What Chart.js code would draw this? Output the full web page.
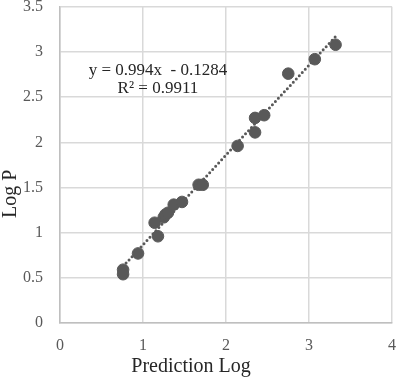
<!DOCTYPE html>
<html>
<head>
<meta charset="utf-8">
<script src="https://cdn.jsdelivr.net/npm/chart.js@4/dist/chart.umd.min.js"></script>
<style>
  html, body { margin: 0; padding: 0; background: #fff; }
  #wrap { width: 399px; height: 377px; }
</style>
</head>
<body>
<div id="wrap"><canvas id="chart" width="399" height="377"></canvas></div>
<script>
const FONT = "'Liberation Serif', 'Times New Roman', serif";

// prediction (x) and measured Log P (y)
const predLog = [0.76, 0.76, 0.94, 1.14, 1.18, 1.25, 1.27, 1.30, 1.37, 1.47, 1.67, 1.72, 2.14, 2.35, 2.35, 2.46, 2.75, 3.07, 3.32];
const logP    = [0.59, 0.54, 0.77, 1.11, 0.96, 1.17, 1.20, 1.22, 1.31, 1.34, 1.53, 1.53, 1.96, 2.11, 2.27, 2.30, 2.76, 2.92, 3.08];

const slope = 0.994;
const intercept = -0.1284;
const eqText = "y = 0.994x  - 0.1284";
const r2Text = "R\u00b2 = 0.9911";

const xTicks = [0, 1, 2, 3, 4];
const yTicks = [0, 0.5, 1, 1.5, 2, 2.5, 3, 3.5];

const points = predLog.map((x, i) => ({ x: x, y: logP[i] }));
const xMin = Math.min(...predLog);
const xMax = Math.max(...predLog);
const trend = [xMin, xMax].map(x => ({ x: x, y: slope * x + intercept }));

// equation box + axis titles, placed relative to the plot area
const labelsPlugin = {
    id: 'labels',
    afterDatasetsDraw(chart) {
        const ctx = chart.ctx;
        const xs = chart.scales.x;
        const ys = chart.scales.y;
        const area = chart.chartArea;
        ctx.save();
        ctx.fillStyle = '#262626';
        ctx.textAlign = 'center';
        ctx.textBaseline = 'middle';
        ctx.font = `17px ${FONT}`;
        ctx.fillText(eqText, xs.getPixelForValue(1.18), ys.getPixelForValue(2.8));
        ctx.fillText(r2Text, xs.getPixelForValue(1.18), ys.getPixelForValue(2.6));

        ctx.font = `20px ${FONT}`;
        ctx.fillText('Prediction Log', area.left + 131, 367);

        ctx.translate(11, area.top + 187);
        ctx.rotate(-Math.PI / 2);
        ctx.fillText('Log P', 0, 0);
        ctx.restore();
    }
};

const fitX = s => {
    s.height = 54;
    s.paddingLeft = 0;
    s.paddingRight = 0;
};
const fitY = s => {
    s.width = 60;
    s.paddingTop = 0;
    s.paddingBottom = 0;
};

new Chart(document.getElementById('chart'), {
    type: 'scatter',
    data: {
        datasets: [
            {
                label: 'trend',
                type: 'line',
                data: trend,
                borderColor: '#595959',
                borderWidth: 3,
                borderDash: [0, 4.4],
                borderCapStyle: 'round',
                pointRadius: 0,
                fill: false,
                order: 2
            },
            {
                label: 'Log P',
                data: points,
                backgroundColor: '#595959',
                borderColor: '#595959',
                pointRadius: 5.8,
                pointHoverRadius: 5.8,
                order: 1
            }
        ]
    },
    options: {
        responsive: false,
        animation: false,
        events: [],
        layout: { padding: { left: 0, right: 7, top: 5, bottom: 0 } },
        plugins: {
            legend: { display: false },
            tooltip: { enabled: false }
        },
        scales: {
            x: {
                type: 'linear',
                min: 0,
                max: 4,
                afterBuildTicks: s => { s.ticks = xTicks.map(v => ({ value: v })); },
                afterFit: fitX,
                grid: { color: '#d9d9d9', lineWidth: 1.5, drawTicks: false },
                border: { color: '#bfbfbf', width: 1.5 },
                ticks: {
                    padding: 13,
                    color: '#595959',
                    font: { family: FONT, size: 16 },
                    callback: v => String(v)
                }
            },
            y: {
                type: 'linear',
                min: 0,
                max: 3.5,
                afterBuildTicks: s => { s.ticks = yTicks.map(v => ({ value: v })); },
                afterFit: fitY,
                grid: { color: '#d9d9d9', lineWidth: 1.5, drawTicks: false },
                border: { color: '#bfbfbf', width: 1.5 },
                ticks: {
                    padding: 17,
                    color: '#595959',
                    font: { family: FONT, size: 16 },
                    callback: v => String(v)
                }
            }
        }
    },
    plugins: [labelsPlugin]
});
</script>
</body>
</html>
